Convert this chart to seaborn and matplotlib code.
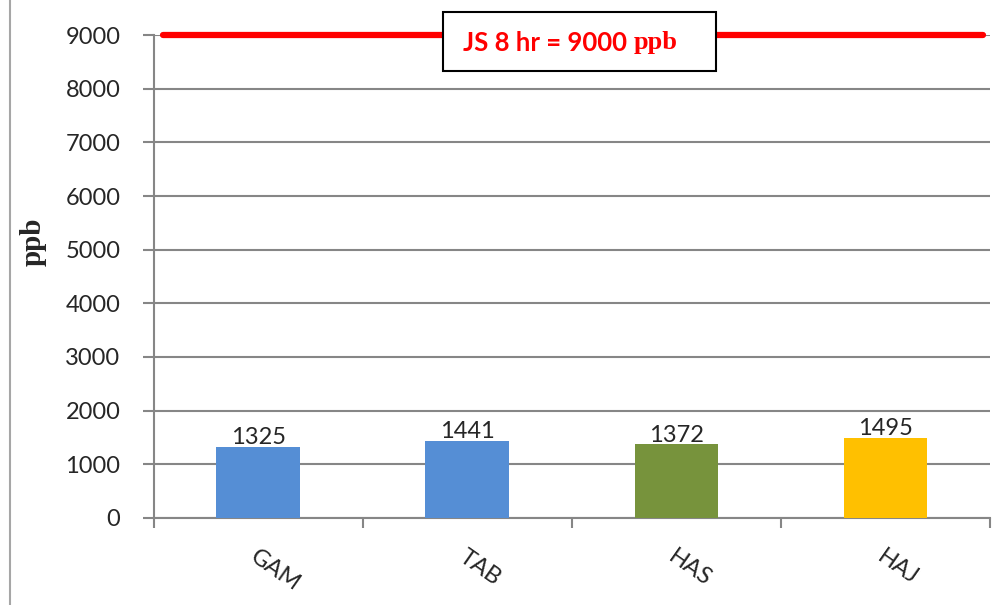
# ppb bar chart with 8 hr limit line

import pandas as pd
import matplotlib.pyplot as plt
from matplotlib.lines import Line2D
from matplotlib.patches import Rectangle
import seaborn as sns

# Data
sites = ["GAM", "TAB", "HAS", "HAJ"]
values = [1325, 1441, 1372, 1495]
bar_colors = ["#558ED5", "#558ED5", "#77933C", "#FFC000"]
limit_value = 9000
limit_label = "JS 8 hr = 9000"
limit_unit = "ppb"
y_ticks = [0, 1000, 2000, 3000, 4000, 5000, 6000, 7000, 8000, 9000]

df = pd.DataFrame({"site": sites, "value": values})

sns.set_style("white")
plt.rcParams['font.family'] = ['Lato', 'DejaVu Sans']

fig = plt.figure(figsize=(10.04, 6.05), dpi=100)
ax = fig.add_axes([0.153, 0.144, 0.833, 0.798])

grid_col = "#868686"

sns.barplot(data=df, x="site", y="value", hue="site", palette=bar_colors,
            width=0.4, legend=False, saturation=1, linewidth=0, ax=ax, zorder=3)

ax.set_ylim(0, 9000)
ax.set_xlim(-0.5, len(sites) - 0.5)
ax.set_yticks(y_ticks)
ax.set_yticklabels([str(t) for t in y_ticks], fontsize=17)
ax.yaxis.grid(True, color=grid_col, linewidth=1.5, zorder=0)
ax.set_axisbelow(True)

# labels at centres, tick marks at category boundaries
ax.set_xticks(range(len(sites)))
ax.set_xticklabels(sites, fontsize=17, rotation=-35, ha="left", va="top",
                   rotation_mode="anchor")
ax.tick_params(axis="x", which="major", length=0, pad=20)
ax.set_xticks([i - 0.5 for i in range(len(sites) + 1)], minor=True)
ax.tick_params(axis="x", which="minor", length=7, width=1.5, color=grid_col,
               direction="out", bottom=True)
ax.tick_params(axis="y", length=8, width=1.5, color=grid_col, pad=16, left=True)

for side in ["top", "right"]:
    ax.spines[side].set_visible(False)
for side in ["left", "bottom"]:
    ax.spines[side].set_color(grid_col)
    ax.spines[side].set_linewidth(1.5)

ax.set_xlabel("")
ax.set_ylabel("ppb", family="Liberation Serif", fontweight="bold", fontsize=21)
ax.yaxis.set_label_coords((47 - 154) / 836, (518 - 242) / 483)

# value labels
for c in ax.containers:
    ax.bar_label(c, fmt="%d", fontsize=17, padding=-1)

# limit line
ax.axhline(limit_value, xmin=0.011, xmax=0.992, color="#FF0000", linewidth=4.5,
           zorder=4, clip_on=False)

# box with limit text
fig.add_artist(Rectangle((443 / 1004, 1 - 71 / 605), 273 / 1004, 59 / 605,
                         transform=fig.transFigure, facecolor="white",
                         edgecolor="black", linewidth=1.5, zorder=5))
t1 = fig.text(463 / 1004, 1 - 43 / 605, limit_label, color="#FF0000",
              fontsize=18.5, fontweight="bold", va="center", ha="left", zorder=6)
fig.canvas.draw()
bb = t1.get_window_extent()
fig.text((bb.x1 + 7) / 1004, 1 - 43 / 605, limit_unit, color="#FF0000",
         family="Liberation Serif", fontsize=19, fontweight="bold",
         va="center", ha="left", zorder=6)

# chart frame line on the left
fig.add_artist(Line2D([10 / 1004, 10 / 1004], [0, 1], color="#A6A6A6",
                      linewidth=1.5, transform=fig.transFigure))

fig.savefig("out.png", dpi=100)
